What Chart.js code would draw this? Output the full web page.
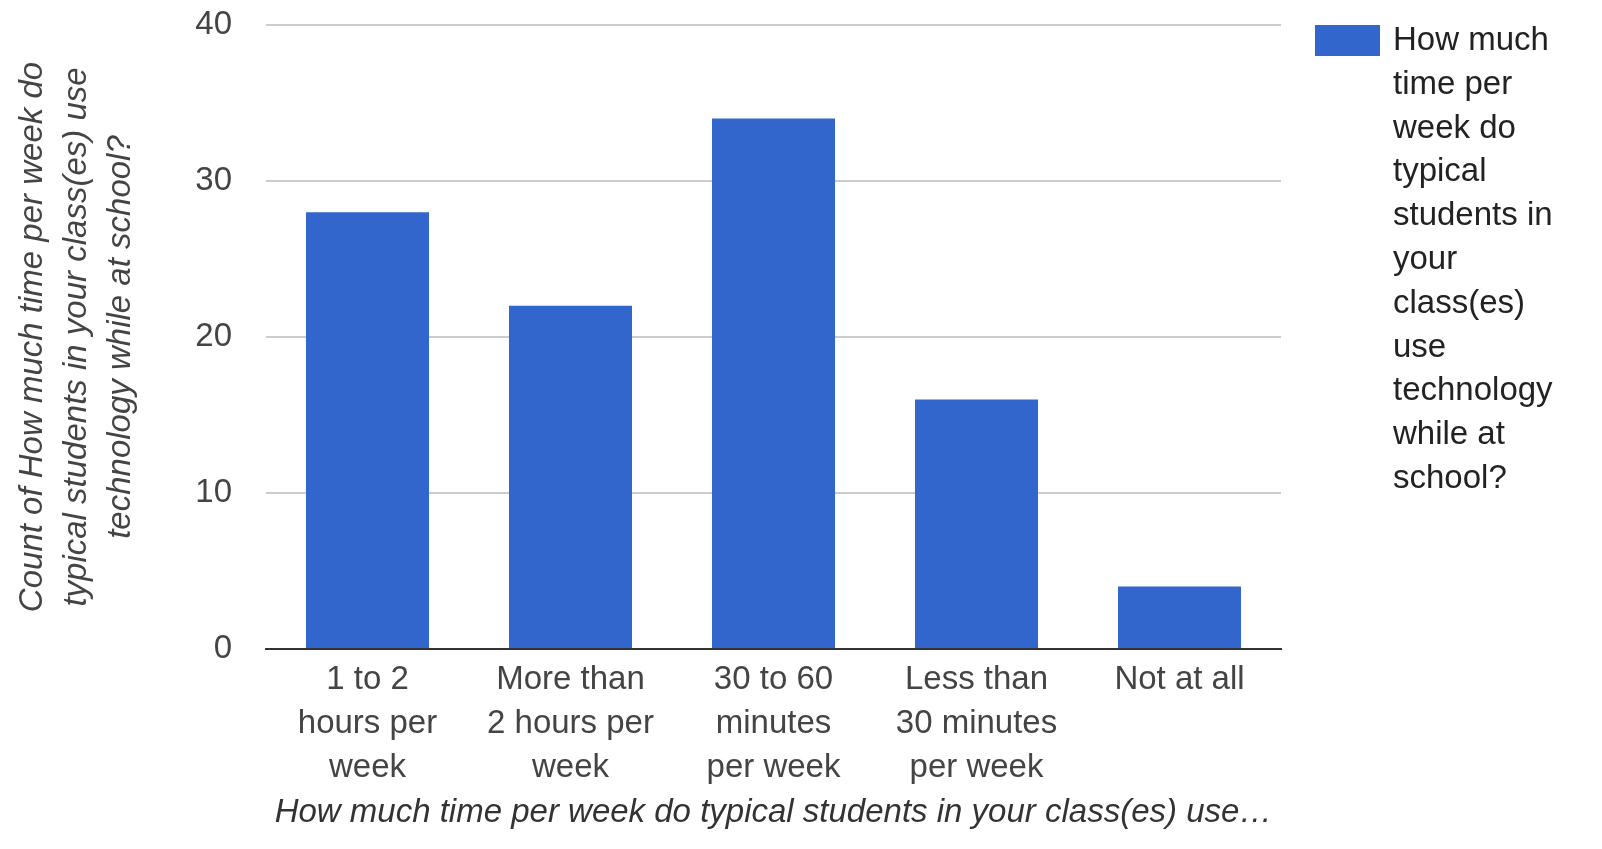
<!DOCTYPE html>
<html>
<head>
<meta charset="utf-8">
<script src="https://cdn.jsdelivr.net/npm/chart.js@4"></script>
<style>
  html, body { margin: 0; padding: 0; background: #fff; overflow: hidden; }
  #wrap { width: 1602px; height: 849px; }
  canvas { display: block; }
</style>
</head>
<body>
<div id="wrap"><canvas id="myChart"></canvas></div>
<script>
const categories = [
  ["1 to 2", "hours per", "week"],
  ["More than", "2 hours per", "week"],
  ["30 to 60", "minutes", "per week"],
  ["Less than", "30 minutes", "per week"],
  ["Not at all"],
];
const counts = [28, 22, 34, 16, 4];
const yTicks = [0, 10, 20, 30, 40];
const seriesLabel = "How much time per week do typical students in your class(es) use technology while at school?";
const yTitle = ["Count of How much time per week do", "typical students in your class(es) use", "technology while at school?"];
const xTitle = "How much time per week do typical students in your class(es) use\u2026";

const FONT = "'Liberation Sans', Arial, sans-serif";

// legend drawn by hand so the label can wrap like the original
const sideLegend = {
  id: "sideLegend",
  afterDraw(chart) {
    const c = chart.ctx;
    const ds = chart.data.datasets[0];
    c.save();
    c.fillStyle = ds.backgroundColor;
    c.fillRect(1315, 25, 65, 31);
    c.font = "33px " + FONT;
    c.fillStyle = "#222";
    c.textBaseline = "middle";
    const words = ds.label.split(" ");
    const maxW = 170;
    let line = "";
    let y = 41;
    const lines = [];
    words.forEach((w) => {
      const test = line ? line + " " + w : w;
      if (c.measureText(test).width > maxW && line) {
        lines.push(line);
        line = w;
      } else {
        line = test;
      }
    });
    lines.push(line);
    lines.forEach((l) => {
      c.fillText(l, 1393, y);
      y += 43.8;
    });
    c.restore();
  },
};

new Chart(document.getElementById("myChart"), {
  type: "bar",
  data: {
    labels: categories,
    datasets: [
      {
        label: seriesLabel,
        data: counts,
        backgroundColor: "#3366cc",
        barPercentage: 0.606,
        categoryPercentage: 1,
      },
    ],
  },
  options: {
    responsive: true,
    maintainAspectRatio: false,
    animation: false,
    layout: {
      padding: { top: 25, right: 321, left: 0, bottom: 0 },
    },
    scales: {
      x: {
        afterFit: (scale) => {
          scale.height = 200;
        },
        grid: { display: false, drawTicks: false },
        border: { display: true, color: "#333", width: 2 },
        ticks: {
          padding: 9,
          color: "#444",
          maxRotation: 0,
          autoSkip: false,
          font: { family: FONT, size: 33, lineHeight: 1.33 },
        },
        title: {
          display: true,
          text: xTitle,
          color: "#333",
          padding: { top: 0, bottom: 16 },
          font: { family: FONT, size: 33, style: "italic" },
        },
      },
      y: {
        min: 0,
        max: 40,
        afterFit: (scale) => {
          scale.width = 266;
          scale.paddingTop = 0;
          scale.paddingBottom = 0;
        },
        afterBuildTicks: (scale) => {
          scale.ticks = yTicks.map((v) => ({ value: v }));
        },
        grid: { color: "#cccccc", lineWidth: 2, drawTicks: false },
        border: { display: false },
        ticks: {
          padding: 34,
          color: "#444",
          font: { family: FONT, size: 33 },
        },
        title: {
          display: true,
          text: yTitle,
          color: "#444",
          padding: { top: 11, bottom: 0 },
          font: { family: FONT, size: 33, style: "italic", lineHeight: 1.33 },
        },
      },
    },
    plugins: {
      legend: { display: false },
      tooltip: { enabled: false },
    },
  },
  plugins: [sideLegend],
});
</script>
</body>
</html>
